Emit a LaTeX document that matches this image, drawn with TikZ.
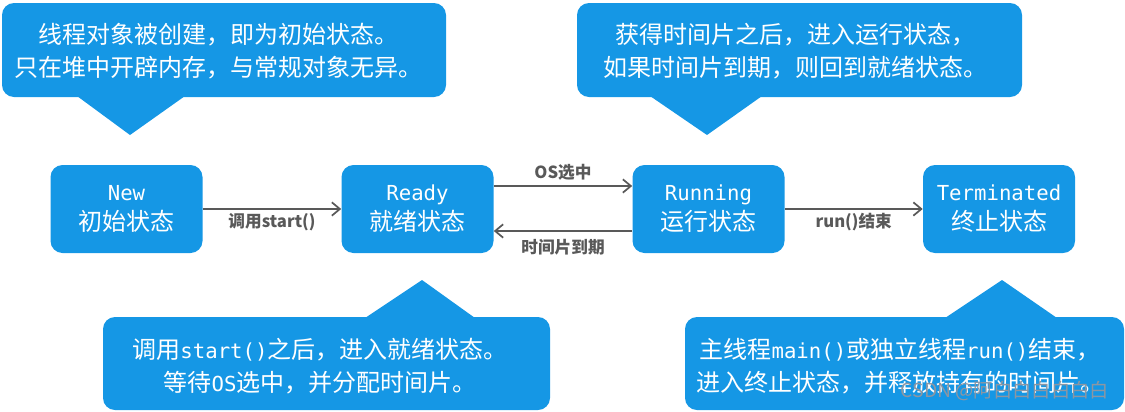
\documentclass[tikz,border=0pt]{standalone}
\usepackage{fontspec}
\usetikzlibrary{arrows.meta}
\newfontfamily\cjk{Noto Sans CJK SC}
\newfontfamily\monof{DejaVu Sans Mono}
\newcommand\mt[1]{{\monof\fontsize{15.5}{15.5}\selectfont #1}}
\definecolor{boxblue}{RGB}{21,151,229}
\definecolor{lblgray}{RGB}{89,89,89}
\definecolor{wmgray}{RGB}{140,150,162}
\tikzset{
  state/.style={fill=boxblue, text=white, rounded corners=9pt, minimum width=114pt,
    minimum height=66pt, inner sep=0pt, align=center, font=\cjk\fontsize{18}{22.5}\selectfont},
  calltext/.style={text=white, align=center, inner sep=0pt, font=\cjk\fontsize{18}{24.75}\selectfont},
  callshape/.style={fill=boxblue, rounded corners=9pt},
  calltip/.style={fill=boxblue},
  arr/.style={draw=lblgray, line width=1.5pt, -{Straight Barb[length=6pt,width=10pt,line width=1.3pt]}},
  lbl/.style={text=lblgray, inner sep=0pt, font=\cjk\bfseries\fontsize{12.5}{14}\selectfont}
}
\begin{document}
\begin{tikzpicture}[x=0.75pt,y=-0.75pt]
\useasboundingbox (0,0) rectangle (1125,411);
% callout shapes
\fill[callshape] (2,3) rectangle (446,97);
\fill[calltip] (77,96) -- (185,96) -- (130,135) -- cycle;
\fill[callshape] (577,3) rectangle (1022,97);
\fill[calltip] (650,96) -- (762,96) -- (707,135) -- cycle;
\fill[callshape] (103,317) rectangle (550,410);
\fill[calltip] (365,318) -- (475,318) -- (422,280) -- cycle;
\fill[callshape] (685,317) rectangle (1124,410);
\fill[calltip] (945,318) -- (1057,318) -- (1002,280) -- cycle;
% callout texts
\node[calltext] (c1) at (218,51) {线程对象被创建，即为初始状态。\\只在堆中开辟内存，与常规对象无异。};
\node[calltext] (c2) at (795,51) {获得时间片之后，进入运行状态，\\如果时间片到期，则回到就绪状态。};
\node[calltext] (c3) at (320,366) {调用\mt{start()}之后，进入就绪状态。\\等待\mt{OS}选中，并分配时间片。};
\node[calltext] (c4) at (900,366) {主线程\mt{main()}或独立线程\mt{run()}结束，\\进入终止状态，并释放持有的时间片。};
% states
\node[state] (new) at (126.5,209) {\mt{New}\\初始状态};
\node[state] (ready) at (417.5,209) {\mt{Ready}\\就绪状态};
\node[state] (running) at (708.5,209) {\mt{Running}\\运行状态};
\node[state] (term) at (999,209) {\mt{Terminated}\\终止状态};
% connectors
\draw[arr] (new) -- node[lbl, yshift=-9.75pt] {调用start()} (ready);
\draw[arr] ([yshift=17.25pt]ready.east) -- node[lbl, yshift=10.5pt] {OS选中} ([yshift=17.25pt]running.west);
\draw[arr] ([yshift=-16.5pt]running.west) -- node[lbl, yshift=-12pt] {时间片到期} ([yshift=-16.5pt]ready.east);
\draw[arr] (running) -- node[lbl, yshift=-9.75pt] {run()结束} (term);
% watermark
\node[text=wmgray, inner sep=0pt, font=\cjk\fontsize{14.5}{15}\selectfont] (wm) at (1005,391) {CSDN @阿白白白白白白};
\end{tikzpicture}
\end{document}
